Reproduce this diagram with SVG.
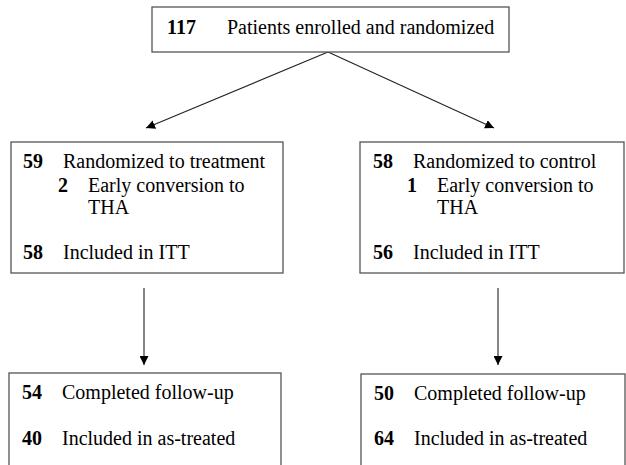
<svg xmlns="http://www.w3.org/2000/svg" width="626" height="465" viewBox="0 0 626 465">
<style>
.box{fill:#fff;stroke:#555;stroke-width:1.3}
text{font-family:"Liberation Serif","Times New Roman",serif;font-size:20px;fill:#000}
.n{font-weight:bold}
.c{stroke:#222;stroke-width:1.1;fill:none}
</style>
<defs>
<marker id="ah" viewBox="0 0 10 10" refX="10" refY="5" markerWidth="9" markerHeight="9" markerUnits="userSpaceOnUse" orient="auto">
<path d="M0,0 L10,5 L0,10 z" fill="#000"/>
</marker>
</defs>
<rect width="626" height="465" fill="#fff"/>
<g id="connectors">
<line class="c" x1="328" y1="52" x2="146" y2="128" marker-end="url(#ah)"/>
<line class="c" x1="328" y1="52" x2="494" y2="128" marker-end="url(#ah)"/>
<line class="c" x1="144" y1="288" x2="144" y2="365" marker-end="url(#ah)"/>
<line class="c" x1="498" y1="288" x2="498" y2="365" marker-end="url(#ah)"/>
</g>
<g id="top">
<rect class="box" x="152" y="7" width="357" height="45"/>
<text class="n" x="167" y="34">117</text>
<text x="227" y="34">Patients enrolled and randomized</text>
</g>
<g id="treatment">
<rect class="box" x="11" y="142" width="272" height="131"/>
<text class="n" x="23" y="168">59</text>
<text x="63" y="168">Randomized to treatment</text>
<text class="n" x="58" y="192">2</text>
<text x="88" y="192">Early conversion to</text>
<text x="88" y="214">THA</text>
<text class="n" x="23" y="259">58</text>
<text x="63" y="259">Included in ITT</text>
</g>
<g id="control">
<rect class="box" x="360" y="142" width="264" height="131"/>
<text class="n" x="373" y="168">58</text>
<text x="413" y="168">Randomized to control</text>
<text class="n" x="407" y="192">1</text>
<text x="437" y="192">Early conversion to</text>
<text x="437" y="214">THA</text>
<text class="n" x="373" y="259">56</text>
<text x="413" y="259">Included in ITT</text>
</g>
<g id="treatment-followup">
<rect class="box" x="9" y="373" width="272" height="110"/>
<text class="n" x="22" y="399">54</text>
<text x="62" y="399">Completed follow-up</text>
<text class="n" x="22" y="445">40</text>
<text x="62" y="445">Included in as-treated</text>
</g>
<g id="control-followup">
<rect class="box" x="361" y="374" width="264" height="110"/>
<text class="n" x="374" y="400">50</text>
<text x="414" y="400">Completed follow-up</text>
<text class="n" x="374" y="445">64</text>
<text x="414" y="445">Included in as-treated</text>
</g>
</svg>
